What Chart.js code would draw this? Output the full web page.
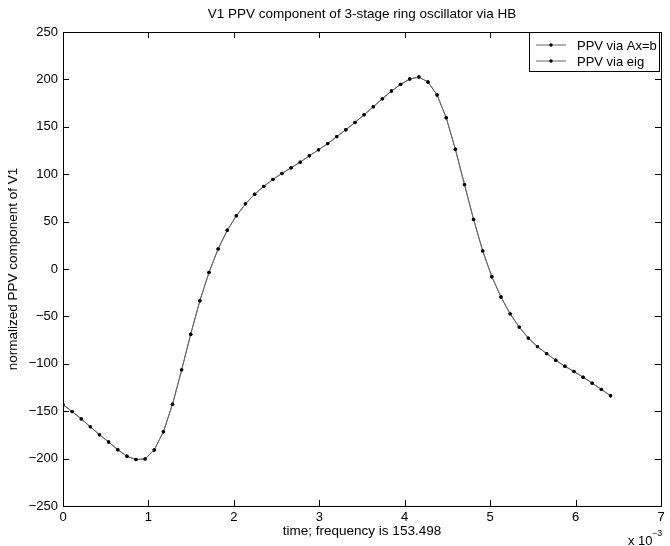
<!DOCTYPE html>
<html lang="en">
<head>
    <meta charset="UTF-8">
    <title>V1 PPV component of 3-stage ring oscillator via HB</title>
    <script src="https://cdn.jsdelivr.net/npm/chart.js"></script>
    <style>
        html, body { margin: 0; padding: 0; background: #fff; }
        canvas { display: block; }
    </style>
</head>
<body>
    <canvas id="myChart" width="670" height="546"></canvas>

    <script>
        // time samples, in units of 1e-3 s
        const times = [
            0.000, 0.107, 0.214, 0.320, 0.427, 0.534, 0.641, 0.748, 0.854, 0.961,
            1.068, 1.175, 1.282, 1.389, 1.495, 1.602, 1.709, 1.816, 1.923, 2.029,
            2.136, 2.243, 2.350, 2.457, 2.563, 2.670, 2.777, 2.884, 2.991, 3.098,
            3.204, 3.311, 3.418, 3.525, 3.632, 3.738, 3.845, 3.952, 4.059, 4.166,
            4.272, 4.379, 4.486, 4.593, 4.700, 4.806, 4.913, 5.020, 5.127, 5.234,
            5.341, 5.447, 5.554, 5.661, 5.768, 5.875, 5.981, 6.088, 6.195, 6.302,
            6.409
        ];
        const ppvAxb = [
            -143.1, -150.4, -158.1, -166.5, -174.8, -182.5, -190.6, -197.6, -201.0, -200.3,
            -190.9, -171.7, -142.7, -106.4, -68.8, -33.5, -3.7, 21.2, 40.8, 56.1,
            68.7, 78.8, 87.2, 94.5, 100.8, 106.8, 112.7, 119.4, 125.7, 132.3,
            139.6, 146.9, 154.6, 162.7, 171.1, 179.5, 187.8, 194.8, 200.4, 202.5,
            197.3, 183.6, 159.5, 126.3, 89.0, 52.3, 19.1, -8.2, -29.5, -47.3,
            -61.3, -72.9, -81.9, -89.3, -96.3, -102.6, -108.1, -114.1, -120.4, -127.0,
            -133.7
        ];
        const ppvEig = [
            -143.1, -150.4, -158.1, -166.5, -174.8, -182.5, -190.6, -197.6, -201.0, -200.3,
            -190.9, -171.7, -142.7, -106.4, -68.8, -33.5, -3.7, 21.2, 40.8, 56.1,
            68.7, 78.8, 87.2, 94.5, 100.8, 106.8, 112.7, 119.4, 125.7, 132.3,
            139.6, 146.9, 154.6, 162.7, 171.1, 179.5, 187.8, 194.8, 200.4, 202.5,
            197.3, 183.6, 159.5, 126.3, 89.0, 52.3, 19.1, -8.2, -29.5, -47.3,
            -61.3, -72.9, -81.9, -89.3, -96.3, -102.6, -108.1, -114.1, -120.4, -127.0,
            -133.7
        ];
        const seriesLabels = ['PPV via Ax=b', 'PPV via eig'];
        const xTicks = [0, 1, 2, 3, 4, 5, 6, 7];
        const yTicks = [-250, -200, -150, -100, -50, 0, 50, 100, 150, 200, 250];

        const chartTitle = 'V1 PPV component of 3-stage ring oscillator via HB';
        const xTitle = 'time; frequency is 153.498';
        const yTitle = 'normalized PPV component of V1';

        const FONT = '"Liberation Sans", Arial, Helvetica, sans-serif';

        function toPoints(ys) {
            return times.map((t, i) => ({ x: t, y: ys[i] }));
        }

        // matlab prints a long minus sign
        function tickText(v) {
            return v < 0 ? '\u2212' + Math.abs(v) : String(v);
        }

        // box, inward ticks, titles and legend in matlab style
        const matlabFrame = {
            id: 'matlabFrame',
            afterDraw(chart) {
                const c = chart.ctx;
                const a = chart.chartArea;
                const sx = chart.scales.x;
                const sy = chart.scales.y;
                const tickLen = 6;
                c.save();
                c.strokeStyle = '#000';
                c.lineWidth = 1;
                c.strokeRect(Math.round(a.left) + 0.5, Math.round(a.top) + 0.5,
                    Math.round(a.right - a.left), Math.round(a.bottom - a.top));
                c.beginPath();
                xTicks.forEach(v => {
                    const px = Math.round(sx.getPixelForValue(v)) + 0.5;
                    c.moveTo(px, a.bottom); c.lineTo(px, a.bottom - tickLen);
                    c.moveTo(px, a.top); c.lineTo(px, a.top + tickLen);
                });
                yTicks.forEach(v => {
                    const py = Math.round(sy.getPixelForValue(v)) + 0.5;
                    c.moveTo(a.left, py); c.lineTo(a.left + tickLen, py);
                    c.moveTo(a.right, py); c.lineTo(a.right - tickLen, py);
                });
                c.stroke();

                const cx = (a.left + a.right) / 2;
                c.fillStyle = '#000';
                c.font = '13.5px ' + FONT;
                c.textAlign = 'center';
                c.textBaseline = 'middle';
                c.fillText(chartTitle, cx, 14);
                c.fillText(xTitle, cx, 531);

                c.save();
                c.translate(13, (a.top + a.bottom) / 2);
                c.rotate(-Math.PI / 2);
                c.fillText(yTitle, 0, 0);
                c.restore();

                // exponent label
                c.font = '13px ' + FONT;
                c.textAlign = 'left';
                c.fillText('x 10', 628, 541);
                c.font = '9px ' + FONT;
                c.fillText('\u22123', 652, 534);

                // legend
                const lx = 529, ly = Math.round(a.top) + 0.5, lw = 130, lh = 39;
                c.fillStyle = '#fff';
                c.fillRect(lx, ly, lw, lh);
                c.strokeStyle = '#000';
                c.strokeRect(lx + 0.5, ly, lw, lh);
                chart.data.datasets.forEach((ds, i) => {
                    const ry = ly + 12.5 + i * 16;
                    c.strokeStyle = ds.borderColor;
                    c.beginPath();
                    c.moveTo(536, ry); c.lineTo(566, ry);
                    c.stroke();
                    c.fillStyle = '#000';
                    c.beginPath();
                    c.arc(551, ry, 1.7, 0, Math.PI * 2);
                    c.fill();
                    c.font = '13px ' + FONT;
                    c.textAlign = 'left';
                    c.textBaseline = 'middle';
                    c.fillText(ds.label, 577, ry + 1);
                });
                c.restore();
            }
        };

        const ctx = document.getElementById('myChart').getContext('2d');
        const myChart = new Chart(ctx, {
            type: 'line',
            data: {
                datasets: [
                    {
                        label: seriesLabels[0],
                        data: toPoints(ppvAxb),
                        borderColor: '#666',
                        borderWidth: 1,
                        pointRadius: 1.7,
                        pointBackgroundColor: '#000',
                        pointBorderWidth: 0,
                        tension: 0
                    },
                    {
                        label: seriesLabels[1],
                        data: toPoints(ppvEig),
                        borderColor: '#666',
                        borderWidth: 1,
                        pointRadius: 1.7,
                        pointBackgroundColor: '#000',
                        pointBorderWidth: 0,
                        tension: 0
                    }
                ]
            },
            options: {
                responsive: false,
                animation: false,
                layout: { padding: { left: 0, right: 9, top: 32, bottom: 0 } },
                plugins: {
                    legend: { display: false },
                    tooltip: { enabled: false }
                },
                scales: {
                    x: {
                        type: 'linear',
                        min: 0,
                        max: 7,
                        afterBuildTicks: s => { s.ticks = xTicks.map(v => ({ value: v })); },
                        afterFit: s => { s.height = 40; },
                        grid: { display: false, drawTicks: false },
                        border: { display: false },
                        ticks: { color: '#000', padding: 4, font: { size: 13, family: FONT } }
                    },
                    y: {
                        type: 'linear',
                        min: -250,
                        max: 250,
                        afterBuildTicks: s => { s.ticks = yTicks.map(v => ({ value: v })); },
                        afterFit: s => { s.width = 63; },
                        grid: { display: false, drawTicks: false },
                        border: { display: false },
                        ticks: {
                            color: '#000', padding: 5, font: { size: 13, family: FONT },
                            callback: v => tickText(v)
                        }
                    }
                }
            },
            plugins: [matlabFrame]
        });
    </script>
</body>
</html>
